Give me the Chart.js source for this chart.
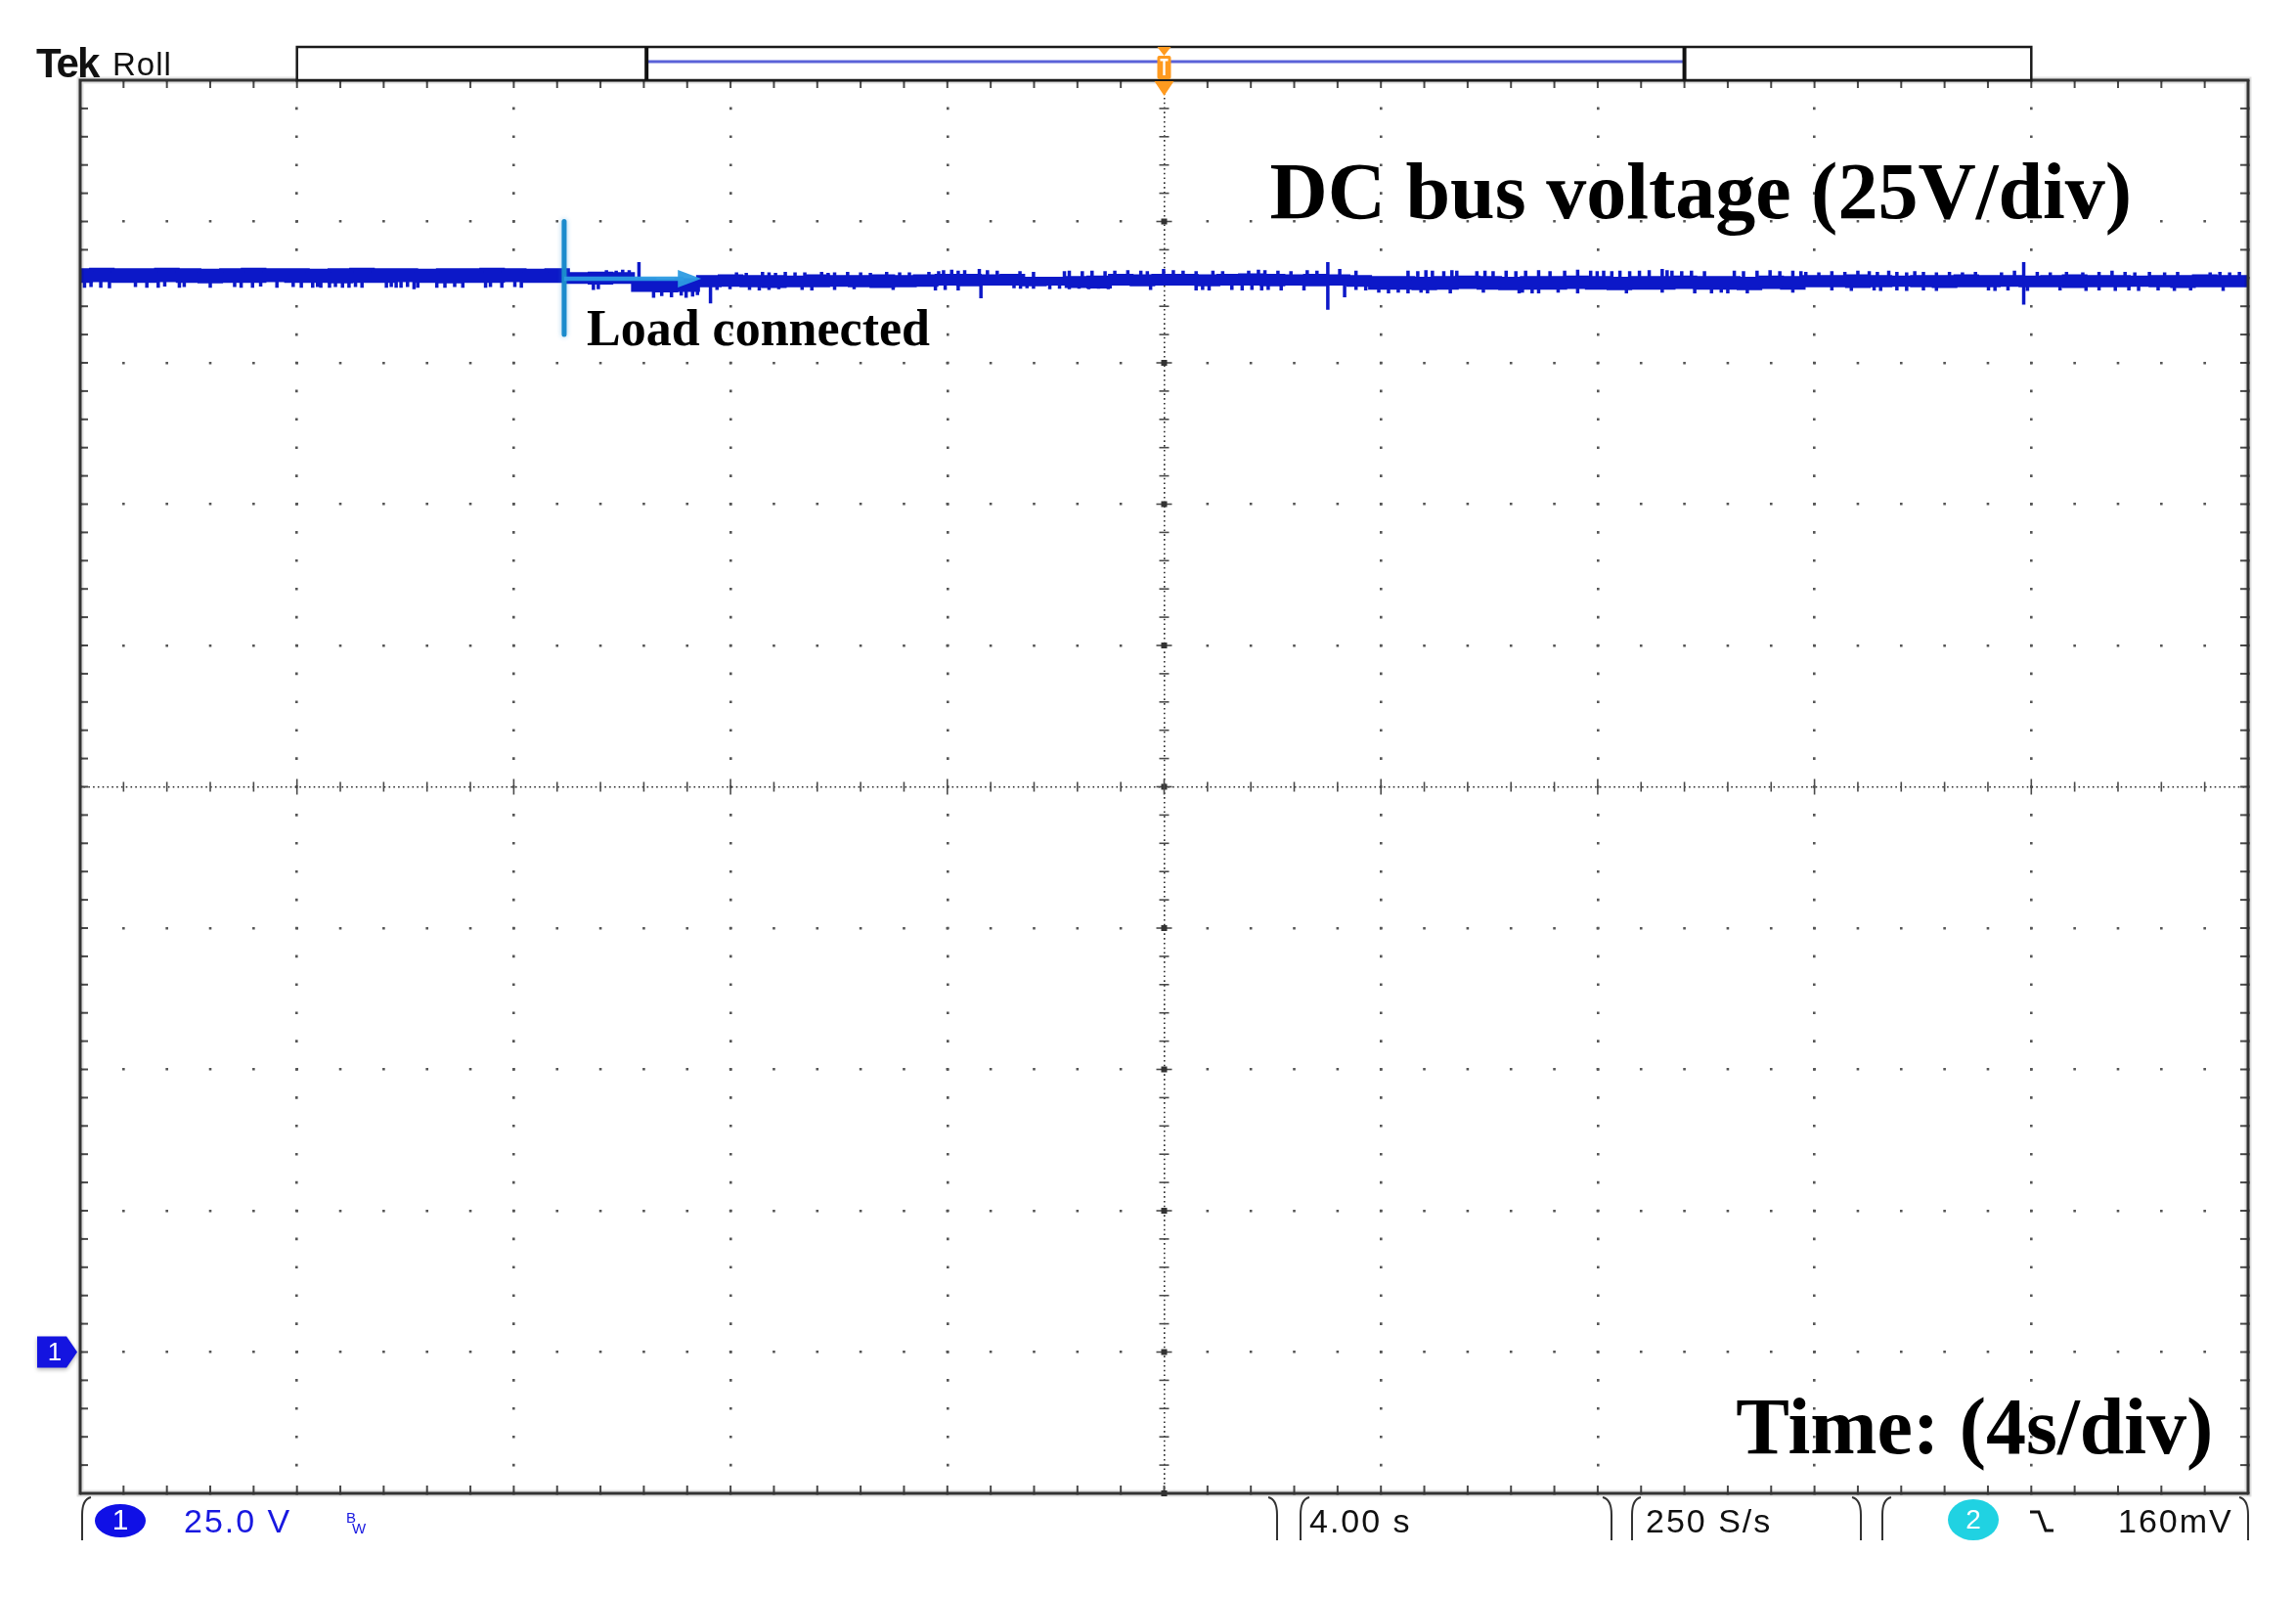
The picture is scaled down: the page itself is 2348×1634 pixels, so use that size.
<!DOCTYPE html>
<html>
<head>
<meta charset="utf-8">
<script src="https://cdn.jsdelivr.net/npm/chart.js@4.4.1/dist/chart.umd.min.js"></script>
<style>
  html, body { margin: 0; padding: 0; background: #ffffff; }
  canvas { display: block; }
</style>
</head>
<body>
<canvas id="scope" width="2348" height="1634"></canvas>
<script>
// ---------------- DATA (read from the oscilloscope capture) ----------------
// Horizontal: 4 s/div, 10 div; vertical: 25 V/div, 10 div, CH1 ground 4 div above the bottom.
const xMin = -20, xMax = 20, xTickStep = 4;      // seconds
const yMin = -25, yMax = 225, yTickStep = 25;    // volts
const loadTime = -11.07;                          // s, load connected

// Envelope of the DC bus trace (core band), one sample every 0.4 s from -20 s to 20 s
const bandStart = -20, bandStep = 0.4;
const bandHigh = [
  191.4,191.5,191.4,191.4,191.5,191.4,191.3,191.4,191.5,191.4,191.4,191.3,191.4,191.5,191.4,191.4,191.3,191.4,191.4,191.5,191.4,191.3,191.4,
  190.7,190.8,190.7,
  189.6,189.5,189.6,
  190.2,190.3,190.2,190.2,190.1,190.3,190.2,190.2,190.3,190.2,190.3,
  190.4,190.4,190.3,190.4,
  189.9,189.9,190.0,190.1,
  190.4,190.3,190.4,190.4,190.3,190.4,190.5,190.4,190.3,190.4,190.3,190.2,
  190.0,190.0,189.9,190.0,190.1,190.0,189.9,190.0,190.0,190.1,190.0,189.9,190.0,190.0,190.1,190.0,190.0,189.9,190.1,190.0,
  190.2,190.2,190.3,190.2,190.1,190.2,190.2,190.3,190.2,190.2,190.1,190.2,190.3,190.2,190.2,190.1,190.2,190.2,190.3,190.2,190.2
];
const bandLow = [
  189.5,189.6,189.5,189.5,189.6,189.5,189.4,189.5,189.5,189.6,189.5,189.5,189.4,189.5,189.5,189.6,189.5,189.4,189.5,189.5,189.6,189.5,189.5,
  189.3,189.2,189.3,
  187.9,187.8,187.9,
  188.7,188.8,188.7,188.6,188.7,188.7,188.8,188.7,188.6,188.7,188.8,
  189.0,188.9,189.0,189.0,
  188.9,189.0,188.6,188.5,
  189.0,188.9,189.0,189.0,188.9,189.0,189.0,188.9,189.0,188.9,189.0,188.8,
  188.3,188.3,188.2,188.3,188.4,188.3,188.2,188.3,188.3,188.4,188.3,188.2,188.3,188.3,188.4,188.3,188.3,188.2,188.4,188.3,
  188.7,188.7,188.6,188.7,188.8,188.7,188.6,188.7,188.7,188.8,188.7,188.7,188.6,188.7,188.7,188.8,188.7,188.6,188.7,188.7,188.7
];

// Noise spikes above the band (time s, peak V)
const upSpikeTime = [
  -10.29,-10.11,-9.99,-9.87,-9.69,
  -7.89,-7.71,-7.41,-7.29,-7.17,-6.99,-6.81,-6.63,-6.32,-6.20,-6.08,-5.84,-5.60,-5.42,-5.12,-4.88,-4.70,-4.34,-4.16,
  -4.07,-3.92,-3.80,-3.68,-3.41,-3.26,-3.08,-2.66,-2.41,-1.84,-1.75,-1.51,-1.33,-1.09,-0.91,-0.67,-0.43,-0.31,-0.01,0.17,
  0.35,0.59,0.90,1.08,1.56,1.74,1.86,2.10,2.34,2.64,2.82,3.02,3.24,3.54,
  4.50,4.68,4.83,4.95,5.16,5.31,5.40,5.77,5.92,6.07,6.31,6.49,6.67,6.91,7.12,7.39,7.63,7.87,7.99,8.11,
  8.26,8.41,8.59,8.77,8.95,9.19,9.28,9.37,9.55,9.73,9.97,10.52,10.69,10.94,11.18,11.36,11.60,11.75,
  11.84,12.08,12.32,12.56,12.80,13.01,13.16,13.37,13.52,13.70,13.85,14.01,14.25,14.49,14.73,14.97,15.45,15.69,15.86,16.11,
  16.35,16.65,16.95,17.25,17.49,17.73,17.91,18.18,18.46,18.70,19.30,19.48,19.66,19.84
];
const upSpikeVolt = [
  191.4,191.3,191.5,191.4,192.8,
  191.0,190.9,191.1,191.0,190.9,191.1,191.0,191.0,191.1,190.9,191.0,191.1,191.0,190.9,191.1,191.0,191.0,191.1,191.2,
  191.4,191.5,191.3,191.4,191.6,191.4,191.3,191.2,191.1,191.2,191.3,191.2,191.3,191.2,191.3,191.4,191.3,191.2,191.6,191.4,
  191.3,191.2,191.3,191.2,191.3,191.5,191.4,191.3,191.2,191.4,191.3,192.8,191.6,191.3,
  191.3,191.2,191.4,191.3,191.2,191.4,191.3,191.2,191.3,191.2,191.3,191.2,191.3,191.4,191.2,191.3,191.5,191.3,191.2,191.3,
  191.2,191.3,191.2,191.3,191.4,191.6,191.4,191.3,191.2,191.3,191.2,191.3,191.2,191.3,191.4,191.2,191.3,191.2,
  191.1,191.0,191.2,191.1,191.3,191.2,191.1,191.3,191.1,191.0,191.2,191.1,191.0,191.1,191.0,191.1,191.0,191.3,192.8,191.1,
  191.0,191.1,191.0,191.1,191.3,191.1,191.0,191.1,191.0,191.1,191.0,191.1,191.0,191.1
];
// Noise spikes below the band (time s, trough V)
const downSpikeTime = [
  -19.92,-19.80,-19.62,-19.46,-18.98,-18.77,-18.56,-18.44,-18.17,-18.08,-17.60,-17.15,-17.03,-16.82,-16.67,-16.37,-16.07,-15.92,-15.71,-15.62,
  -15.56,-15.40,-15.29,-15.16,-15.04,-14.92,-14.80,-14.35,-14.26,-14.17,-14.08,-13.96,-13.84,-13.77,-13.42,-13.27,-13.09,-12.94,-12.52,-12.43,
  -12.22,-11.98,-11.86,
  -10.53,-10.44,-9.42,-9.27,-9.09,-8.91,-8.82,-8.70,-8.61,-8.37,
  -8.25,-8.01,-7.65,-7.47,-7.29,-7.11,-6.68,-6.50,-6.08,-5.72,-5.00,-4.22,
  -4.04,-3.80,-3.38,-2.77,-2.65,-2.53,-2.41,-2.11,-1.93,-1.75,-1.57,-1.39,-1.21,-1.03,-0.25,0.59,0.71,0.83,1.25,1.44,
  1.62,1.80,1.92,2.16,2.58,3.02,3.33,3.54,3.72,
  3.96,4.14,4.32,4.50,4.74,4.86,5.28,5.89,6.55,6.61,6.79,6.91,7.27,7.63,8.53,9.19,9.79,10.10,10.28,10.40,10.76,11.60,
  12.32,12.68,13.10,13.22,13.52,13.70,14.01,14.25,15.21,15.33,15.57,15.86,15.93,16.53,17.01,17.25,17.55,17.80,17.98,18.34,
  18.64,18.94,19.54
];
const downSpikeVolt = [
  188.3,188.4,188.3,188.2,188.4,188.3,188.3,188.5,188.3,188.4,188.3,188.4,188.3,188.3,188.5,188.3,188.4,188.3,188.3,188.4,
  188.3,188.3,188.4,188.3,188.3,188.4,188.3,188.3,188.4,188.3,188.3,188.4,188.0,188.3,188.3,188.3,188.4,188.3,188.3,188.4,
  188.3,188.4,188.3,
  187.9,188.0,186.5,186.8,186.6,186.9,186.5,186.7,187.0,185.5,
  187.9,188.0,187.9,187.8,187.9,188.0,187.9,187.8,187.9,188.0,187.9,187.8,
  187.9,187.8,186.4,188.2,188.1,188.2,188.1,188.0,188.1,188.0,188.1,188.0,188.1,188.0,187.9,187.8,187.9,187.8,187.9,187.8,
  187.9,187.8,187.9,187.8,187.8,184.4,186.6,187.9,187.8,
  187.4,187.3,187.4,187.3,187.4,187.3,187.3,187.4,187.3,187.4,187.3,187.3,187.4,187.3,187.3,187.4,187.3,187.3,187.4,187.3,187.3,187.4,
  187.8,187.7,187.8,187.7,187.8,187.7,187.8,187.7,187.8,187.7,187.8,185.3,187.7,187.8,187.7,187.8,187.7,187.8,187.7,187.8,
  187.7,187.8,187.7
];

// Texts
const titleText = 'DC bus voltage (25V/div)';
const timeText = 'Time: (4s/div)';
const annotationText = 'Load connected';
const ch1Scale = '25.0 V';
const timeBase = '4.00 s';
const sampleRate = '250 S/s';
const triggerLevel = '160mV';

// ---------------- build datasets ----------------
const traceColor = '#0c18c8';
const bandTimes = bandHigh.map((_, i) => bandStart + i * bandStep);
const hiPts = bandHigh.map((v, i) => ({ x: bandTimes[i], y: v }));
const loPts = bandLow.map((v, i) => ({ x: bandTimes[i], y: v }));
function bandMidAt(t) {
  let i = Math.round((t - bandStart) / bandStep);
  i = Math.max(0, Math.min(bandHigh.length - 1, i));
  return (bandHigh[i] + bandLow[i]) / 2;
}
const spikePts = [];
function addSpikes(ts, vs) {
  ts.forEach((t, i) => {
    spikePts.push({ x: t, y: bandMidAt(t) }, { x: t, y: vs[i] }, { x: t, y: null });
  });
}
addSpikes(upSpikeTime, upSpikeVolt);
addSpikes(downSpikeTime, downSpikeVolt);

// ---------------- decoration plugin ----------------
function seg(ctx, x1, y1, x2, y2) { ctx.beginPath(); ctx.moveTo(x1, y1); ctx.lineTo(x2, y2); ctx.stroke(); }

const scopeDecor = {
  id: 'scopeDecor',
  beforeDraw(chart) {
    const ctx = chart.ctx;
    ctx.save();
    ctx.fillStyle = '#ffffff';
    ctx.fillRect(0, 0, chart.width, chart.height);
    ctx.restore();
  },
  beforeDatasetsDraw(chart) {
    const { ctx, chartArea: ca, scales: { x: xs, y: ys } } = chart;
    ctx.save();
    ctx.strokeStyle = '#4a4a4a';
    ctx.lineWidth = 2;
    const nx = Math.round((xMax - xMin) / xTickStep) * 5;
    const ny = Math.round((yMax - yMin) / yTickStep) * 5;
    for (let i = 0; i <= nx; i++) {
      const px = xs.getPixelForValue(xMin + i * xTickStep / 5);
      seg(ctx, px, ca.top, px, ca.top + 8);
      seg(ctx, px, ca.bottom, px, ca.bottom - 8);
    }
    for (let i = 0; i <= ny; i++) {
      const py = ys.getPixelForValue(yMin + i * yTickStep / 5);
      seg(ctx, ca.left, py, ca.left + 8, py);
      seg(ctx, ca.right, py, ca.right - 8, py);
    }
    const cx = xs.getPixelForValue((xMin + xMax) / 2);
    const cy = ys.getPixelForValue((yMin + yMax) / 2);
    ctx.lineWidth = 1.6;
    for (let i = 0; i <= ny; i++) {
      const py = ys.getPixelForValue(yMin + i * yTickStep / 5);
      const major = i % 5 === 0;
      seg(ctx, cx - (major ? 8 : 5), py, cx + (major ? 8 : 5), py);
      if (major) { ctx.fillStyle = '#333'; ctx.fillRect(cx - 3, py - 3, 6, 6); }
    }
    for (let i = 0; i <= nx; i++) {
      const px = xs.getPixelForValue(xMin + i * xTickStep / 5);
      const major = i % 5 === 0;
      seg(ctx, px, cy - (major ? 8 : 5), px, cy + (major ? 8 : 5));
    }
    ctx.restore();
  },
  afterDraw(chart) {
    const { ctx, chartArea: ca, scales: { x: xs, y: ys } } = chart;
    const X = v => xs.getPixelForValue(v);
    const Y = v => ys.getPixelForValue(v);
    ctx.save();

    // frame
    ctx.strokeStyle = 'rgba(0,0,0,0.12)';
    ctx.lineWidth = 7;
    ctx.strokeRect(ca.left, ca.top, ca.width, ca.height);
    ctx.strokeStyle = '#333333';
    ctx.lineWidth = 3;
    ctx.strokeRect(ca.left, ca.top, ca.width, ca.height);

    // ---- top record bar ----
    const barTop = ca.top - 34;
    const bx1 = X(-16), bx2 = X(16), wx1 = X(-9.55), wx2 = X(9.6);
    ctx.fillStyle = '#ffffff';
    ctx.fillRect(bx1, barTop, bx2 - bx1, 34);
    ctx.strokeStyle = '#1a1a1a';
    ctx.lineWidth = 2.5;
    ctx.strokeRect(bx1, barTop, bx2 - bx1, 34);
    ctx.strokeStyle = '#5a62d8';
    ctx.lineWidth = 3;
    seg(ctx, wx1, ca.top - 19, wx2, ca.top - 19);
    ctx.strokeStyle = '#111';
    ctx.lineWidth = 4;
    seg(ctx, wx1, barTop, wx1, ca.top);
    seg(ctx, wx2, barTop, wx2, ca.top);

    // trigger marker
    const tx = X(0);
    ctx.fillStyle = '#ff9a1f';
    ctx.beginPath(); ctx.moveTo(tx - 7, barTop); ctx.lineTo(tx + 7, barTop); ctx.lineTo(tx, barTop + 9); ctx.closePath(); ctx.fill();
    ctx.beginPath(); ctx.roundRect(tx - 7, ca.top - 25, 14, 24, 2); ctx.fill();
    ctx.fillStyle = '#ffffff';
    ctx.fillRect(tx - 4, ca.top - 22, 8, 2.5);
    ctx.fillRect(tx - 1.2, ca.top - 22, 2.4, 17);
    ctx.fillStyle = '#ff9a1f';
    ctx.beginPath(); ctx.moveTo(tx - 10, ca.top + 1); ctx.lineTo(tx + 10, ca.top + 1); ctx.lineTo(tx, ca.top + 16); ctx.closePath(); ctx.fill();

    // Tek Roll
    ctx.fillStyle = '#111';
    ctx.textBaseline = 'alphabetic';
    ctx.textAlign = 'left';
    ctx.font = 'bold 42px "Liberation Sans", Arial, sans-serif';
    ctx.letterSpacing = '-2px';
    ctx.fillText('Tek', ca.left - 45, ca.top - 3);
    ctx.font = '33px "Liberation Sans", Arial, sans-serif';
    ctx.letterSpacing = '1px';
    ctx.fillText('Roll', ca.left + 33, ca.top - 5);
    ctx.letterSpacing = '0px';

    // ground marker "1"
    const gy = Y(0);
    ctx.save();
    ctx.shadowColor = 'rgba(0,0,0,0.3)'; ctx.shadowBlur = 4; ctx.shadowOffsetY = 2;
    ctx.fillStyle = '#1414e0';
    ctx.beginPath();
    ctx.moveTo(ca.left - 44, gy - 16);
    ctx.lineTo(ca.left - 14, gy - 16);
    ctx.lineTo(ca.left - 3, gy);
    ctx.lineTo(ca.left - 14, gy + 16);
    ctx.lineTo(ca.left - 44, gy + 16);
    ctx.closePath();
    ctx.fill();
    ctx.restore();
    ctx.fillStyle = '#ffffff';
    ctx.font = '26px "Liberation Sans", Arial, sans-serif';
    ctx.textAlign = 'center';
    ctx.textBaseline = 'middle';
    ctx.fillText('1', ca.left - 26, gy + 1);

    // ---- annotation: load connected ----
    const lx = X(loadTime);
    ctx.save();
    ctx.shadowColor = 'rgba(30,140,210,0.45)'; ctx.shadowBlur = 5;
    ctx.strokeStyle = '#1b8bcc';
    ctx.lineWidth = 5;
    ctx.lineCap = 'round';
    seg(ctx, lx, Y(200), lx, Y(180));
    ctx.restore();
    const ay = Y(189.9);
    const tipX = X(-8.54);
    ctx.strokeStyle = 'rgba(45,155,225,0.95)';
    ctx.lineWidth = 4.5;
    seg(ctx, lx, ay, tipX - 18, ay);
    ctx.fillStyle = 'rgba(45,155,225,0.95)';
    ctx.beginPath(); ctx.moveTo(tipX - 24, ay - 9); ctx.lineTo(tipX, ay); ctx.lineTo(tipX - 24, ay + 9); ctx.closePath(); ctx.fill();

    ctx.fillStyle = '#000';
    ctx.textAlign = 'left';
    ctx.textBaseline = 'alphabetic';
    ctx.font = 'bold 52px "Liberation Serif", "Times New Roman", serif';
    ctx.fillText(annotationText, lx + 23, Y(178.2));

    ctx.font = 'bold 82px "Liberation Serif", "Times New Roman", serif';
    ctx.fillText(titleText, X(1.95), Y(200.6));
    ctx.fillText(timeText, X(10.55), Y(-17.9));

    // ---- bottom status bar ----
    const sb = ca.bottom;
    ctx.strokeStyle = '#333';
    ctx.lineWidth = 2;
    function openBr(x) { ctx.beginPath(); ctx.moveTo(x + 9, sb + 4); ctx.quadraticCurveTo(x, sb + 6, x, sb + 22); ctx.lineTo(x, sb + 48); ctx.stroke(); }
    function closeBr(x) { ctx.beginPath(); ctx.moveTo(x - 9, sb + 4); ctx.quadraticCurveTo(x, sb + 6, x, sb + 22); ctx.lineTo(x, sb + 48); ctx.stroke(); }
    openBr(ca.left + 2);
    closeBr(1306); openBr(1330);
    closeBr(1648); openBr(1669);
    closeBr(1903); openBr(1925);
    closeBr(ca.right);

    ctx.fillStyle = '#1010e6';
    ctx.beginPath(); ctx.ellipse(ca.left + 41, sb + 28, 26, 17, 0, 0, Math.PI * 2); ctx.fill();
    ctx.fillStyle = '#fff';
    ctx.font = '30px "Liberation Sans", Arial, sans-serif';
    ctx.textAlign = 'center'; ctx.textBaseline = 'middle';
    ctx.fillText('1', ca.left + 41, sb + 29);

    ctx.textAlign = 'left'; ctx.textBaseline = 'alphabetic';
    ctx.font = '34px "Liberation Sans", Arial, sans-serif';
    ctx.letterSpacing = '2px';
    ctx.fillStyle = '#1818e0';
    ctx.fillText(ch1Scale, 188, sb + 40);
    ctx.letterSpacing = '0px';
    ctx.font = '15px "Liberation Sans", Arial, sans-serif';
    ctx.fillText('B', 354, sb + 30);
    ctx.fillText('W', 360, sb + 41);

    ctx.font = '34px "Liberation Sans", Arial, sans-serif';
    ctx.letterSpacing = '2px';
    ctx.fillStyle = '#111';
    ctx.fillText(timeBase, 1339, sb + 40);
    ctx.fillText(sampleRate, 1683, sb + 40);
    ctx.fillText(triggerLevel, 2166, sb + 40);
    ctx.letterSpacing = '0px';

    ctx.fillStyle = '#20d2e2';
    ctx.beginPath(); ctx.ellipse(2018, sb + 27, 26, 21, 0, 0, Math.PI * 2); ctx.fill();
    ctx.fillStyle = '#fff';
    ctx.font = '28px "Liberation Sans", Arial, sans-serif';
    ctx.textAlign = 'center'; ctx.textBaseline = 'middle';
    ctx.fillText('2', 2018, sb + 28);
    ctx.strokeStyle = '#111'; ctx.lineWidth = 3;
    ctx.beginPath(); ctx.moveTo(2076, sb + 19); ctx.lineTo(2085, sb + 19); ctx.lineTo(2092, sb + 38); ctx.lineTo(2100, sb + 38); ctx.stroke();

    ctx.restore();
  }
};

// ---------------- chart ----------------
const minorDashV = c => {
  const ca = c.chart.chartArea;
  const m = ca ? (ca.bottom - ca.top) / 50 : 28.9;
  return (c.tick && c.tick.value === 0) ? [1.6, 3.2] : [2.6, m - 2.6];
};
const minorDashH = c => {
  const ca = c.chart.chartArea;
  const m = ca ? (ca.right - ca.left) / 50 : 44.34;
  return (c.tick && c.tick.value === (yMin + yMax) / 2) ? [1.6, 3.2] : [2.6, m - 2.6];
};

new Chart(document.getElementById('scope'), {
  type: 'line',
  data: {
    datasets: [
      { label: 'DC bus (max)', data: hiPts, borderColor: traceColor, backgroundColor: traceColor, borderWidth: 4,
        pointRadius: 0, stepped: 'middle', fill: '+1' },
      { label: 'DC bus (min)', data: loPts, borderColor: traceColor, backgroundColor: traceColor, borderWidth: 4,
        pointRadius: 0, stepped: 'middle', fill: false },
      { label: 'DC bus spikes', data: spikePts, borderColor: traceColor, borderWidth: 3.5,
        pointRadius: 0, fill: false, spanGaps: false, borderCapStyle: 'butt' }
    ]
  },
  options: {
    responsive: false,
    animation: false,
    devicePixelRatio: 1,
    layout: { padding: { left: 82, top: 82, right: 49, bottom: 107 } },
    plugins: { legend: { display: false }, tooltip: { enabled: false } },
    events: [],
    scales: {
      x: {
        type: 'linear', min: xMin, max: xMax,
        ticks: { stepSize: xTickStep, display: false },
        grid: {
          drawTicks: false,
          color: c => (c.tick && c.tick.value === 0) ? '#2e2e2e' : '#555555',
          lineWidth: c => (c.tick && c.tick.value === 0) ? 1.6 : 2.6
        },
        border: { display: false, dash: minorDashV, dashOffset: 1.3 }
      },
      y: {
        type: 'linear', min: yMin, max: yMax,
        ticks: { stepSize: yTickStep, display: false },
        grid: {
          drawTicks: false,
          color: c => (c.tick && c.tick.value === (yMin + yMax) / 2) ? '#2e2e2e' : '#555555',
          lineWidth: c => (c.tick && c.tick.value === (yMin + yMax) / 2) ? 1.6 : 2.6
        },
        border: { display: false, dash: minorDashH, dashOffset: 1.3 }
      }
    }
  },
  plugins: [scopeDecor]
});
</script>
</body>
</html>
